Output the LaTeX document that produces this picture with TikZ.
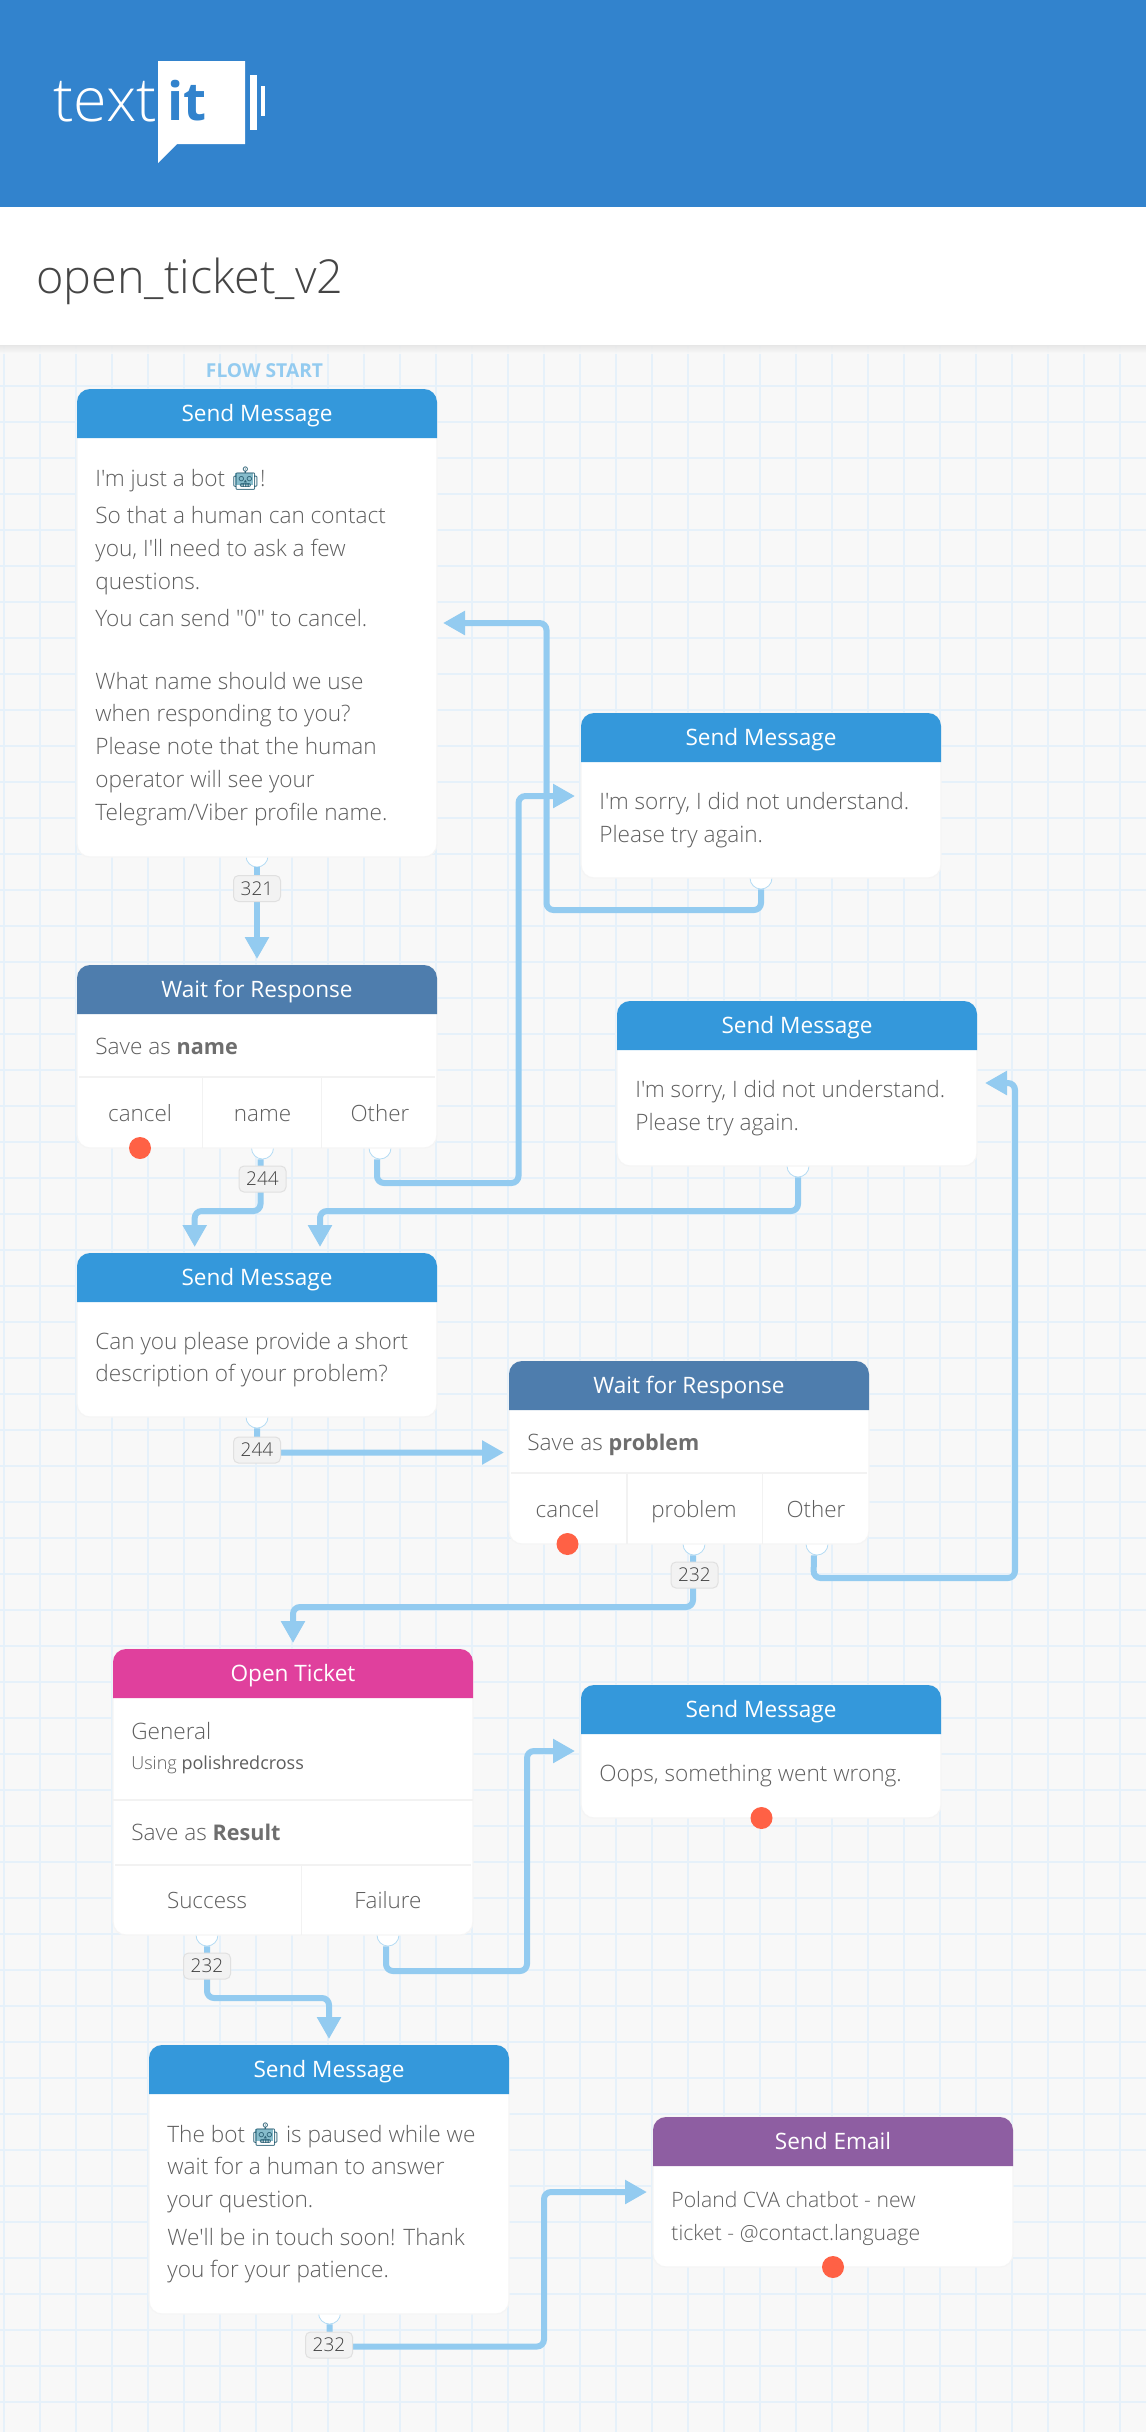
\documentclass[tikz,border=0pt]{standalone}
\usepackage{fontspec}
\usetikzlibrary{arrows.meta,calc}
\setmainfont{Open Sans Light}
\newfontfamily\bodyfont{Open Sans Light}
\newfontfamily\medfont{Open Sans}
\newfontfamily\emojifont{Noto Emoji}
\definecolor{topblue}{HTML}{3283CD}
\definecolor{sendblue}{HTML}{3498DB}
\definecolor{waitblue}{HTML}{4E7DAD}
\definecolor{ticketpink}{HTML}{E0409D}
\definecolor{mailpurple}{HTML}{8E5EA2}
\definecolor{linkblue}{HTML}{93CBF0}
\definecolor{gridblue}{HTML}{E6F1FA}
\definecolor{pagegrey}{HTML}{F8F8F8}
\definecolor{bodygrey}{HTML}{5E5E5E}
\definecolor{dotred}{HTML}{FF6145}
\definecolor{robotteal}{HTML}{2F6478}
\definecolor{robotfill}{HTML}{86BCCB}
\tikzset{
  x=0.5pt,y=-0.5pt,
  cardbody/.style={draw=black!4,line width=0.6pt,fill=white,rounded corners=6.5pt,inner sep=0pt,minimum width=180pt},
  cardtitle/.style={text=white,font=\medfont\fontsize{11.3pt}{12pt}\selectfont,inner sep=0pt,anchor=base},
  bodytext/.style={text=bodygrey,font=\bodyfont\fontsize{11.3pt}{16.35pt}\selectfont,inner sep=0pt,anchor=base west,align=left},
  tabtext/.style={text=bodygrey,font=\bodyfont\fontsize{11.2pt}{12pt}\selectfont,inner sep=0pt,anchor=base},
  exitdot/.style={circle,draw=linkblue!70,line width=0.4pt,fill=white,inner sep=0pt,minimum size=11pt},
  reddot/.style={circle,fill=dotred,inner sep=0pt,minimum size=11pt},
  conn/.style={draw=linkblue,line width=3pt,rounded corners=3.5pt,-{Triangle[length=11pt,width=11.5pt]}},
  badge/.style={draw=black!12,line width=0.5pt,fill=black!5,rounded corners=2.5pt,inner sep=0pt,minimum width=23.5pt,minimum height=13pt,text=black!75,font=\bodyfont\fontsize{9.5pt}{10pt}\selectfont},
  divline/.style={draw=black!5,line width=0.7pt}
}
\newcommand{\card}[6]{% name, xleft, ytop, ybottom, colour, title
  \node[cardbody,minimum height={(#4-#3)*0.5pt}] (#1) at ({#2+180},{(#3+#4)/2}) {};
  \fill[#5] (#2,{#3+49}) [rounded corners=6.5pt] -- (#2,#3) -- ({#2+360},#3) [sharp corners] -- ({#2+360},{#3+49}) -- cycle;
  \node[cardtitle] (#1t) at ({#2+180},{#3+32}) {#6};
}
\newcommand{\boldword}[1]{{\medfont\bfseries\fontsize{10.8pt}{16.35pt}\selectfont\color{bodygrey!90}#1}}
\newcommand{\robotface}{{\emojifont\fontsize{11.5pt}{12pt}\selectfont\rlap{\kern.17em\raisebox{.03em}{\textcolor{robotfill}{\rule{.78em}{.55em}}}}\textcolor{robotteal}{\char"1F916}}}
\begin{document}
\begin{tikzpicture}
\useasboundingbox (0,0) rectangle (1146,2432);
% page
\fill[pagegrey] (0,345) rectangle (1146,2432);
\foreach \i in {0,...,31}{\draw[gridblue,line width=1pt] ({3.5+36*\i},345) -- ({3.5+36*\i},2432);}
\foreach \i in {0,...,57}{\draw[gridblue,line width=1pt] (0,{386+36*\i}) -- (1146,{386+36*\i});}
% header
\shade[top color=black!10,bottom color=pagegrey,opacity=0.9] (0,345) rectangle (1146,353);
\fill[topblue] (0,0) rectangle (1146,207);
\fill[white] (0,207) rectangle (1146,345);
\node[text=white,font=\bodyfont\fontsize{30.5pt}{32pt}\selectfont,inner sep=0pt,anchor=base west] (logotext) at (53,121) {text};
\fill[white] (158,61) -- (245,61) -- (245,144) -- (177,144) -- (158,163) -- cycle;
\node[text=topblue,font=\medfont\bfseries\fontsize{26.5pt}{32pt}\selectfont,inner sep=0pt,anchor=base west] (logoit) at (167,120) {it};
\fill[white] (249.5,75) rectangle (256.5,130);
\fill[white] (261,86) rectangle (264.5,116);
\node[text=black!73,font=\bodyfont\fontsize{23.4pt}{26pt}\selectfont,inner sep=0pt,anchor=base west] (title) at (36,293) {open\_ticket\_v2};
\node[text=linkblue,font=\medfont\bfseries\fontsize{9.6pt}{10pt}\selectfont,inner sep=0pt,anchor=base] (flowstart) at (264.5,377.5) {FLOW START};
% exit dots (under the cards)
\node[exitdot] (e1) at (257,856) {};
\node[exitdot] (e2) at (262.5,1148) {};
\node[exitdot] (e3) at (380,1148) {};
\node[exitdot] (e4) at (761,878) {};
\node[exitdot] (e5) at (798,1166) {};
\node[exitdot] (e6) at (257,1417) {};
\node[exitdot] (e7) at (694,1544) {};
\node[exitdot] (e8) at (817,1544) {};
\node[exitdot] (e9) at (207,1935) {};
\node[exitdot] (e10) at (388,1935) {};
\node[exitdot] (e11) at (329.5,2313) {};
% cards
\card{sendA}{77}{389}{857}{sendblue}{Send Message}
\card{waitA}{77}{965}{1148}{waitblue}{Wait for Response}
\card{sendB}{77}{1253}{1417}{sendblue}{Send Message}
\card{sorryA}{581}{713}{878}{sendblue}{Send Message}
\card{sorryB}{617}{1001}{1166}{sendblue}{Send Message}
\card{waitB}{509}{1361}{1544}{waitblue}{Wait for Response}
\card{ticket}{113}{1649}{1935}{ticketpink}{Open Ticket}
\card{oops}{581}{1685}{1818}{sendblue}{Send Message}
\card{sendC}{149}{2045}{2314}{sendblue}{Send Message}
\card{mail}{653}{2117}{2267}{mailpurple}{Send Email}
% card dividers
\draw[divline] (79,1077) -- (435,1077);
\draw[divline] (202.5,1077) -- (202.5,1148);
\draw[divline] (321.5,1077) -- (321.5,1148);
\draw[divline] (511,1473) -- (867,1473);
\draw[divline] (627,1473) -- (627,1544);
\draw[divline] (762.5,1473) -- (762.5,1544);
\draw[divline] (113,1800) -- (473,1800);
\draw[divline] (115,1865) -- (471,1865);
\draw[divline] (301.5,1865) -- (301.5,1935);
% card texts (a multi-line node is placed by its last baseline)
\node[bodytext] (a1) at (95,486) {I'm just a bot \robotface!};
\node[bodytext] (a2) at (95,589) {So that a human can contact\\you, I'll need to ask a few\\questions.};
\node[bodytext] (a3) at (95,626.5) {You can send "0" to cancel.};
\node[bodytext] (a4) at (95,820) {What name should we use\\when responding to you?\\Please note that the human\\operator will see your\\Telegram/Viber profile name.};
\node[bodytext] (w1) at (95,1054) {Save as \boldword{name}};
\node[tabtext] (w1a) at (140,1121) {cancel};
\node[tabtext] (w1b) at (262.5,1121) {name};
\node[tabtext] (w1c) at (380,1121) {Other};
\node[bodytext] (b1) at (95,1381.7) {Can you please provide a short\\description of your problem?};
\node[bodytext] (s1) at (599,842) {I'm sorry, I did not understand.\\Please try again.};
\node[bodytext] (s2) at (635,1130) {I'm sorry, I did not understand.\\Please try again.};
\node[bodytext] (w2) at (527,1450) {Save as \boldword{problem}};
\node[tabtext] (w2a) at (567.5,1517) {cancel};
\node[tabtext] (w2b) at (694,1517) {problem};
\node[tabtext] (w2c) at (816,1517) {Other};
\node[bodytext] (t1) at (131,1739) {General};
\node[bodytext,font=\bodyfont\fontsize{9pt}{10pt}\selectfont] (t2) at (131,1769) {Using {\medfont polishredcross}};
\node[bodytext] (t3) at (131,1840) {Save as \boldword{Result}};
\node[tabtext] (t4) at (207,1908) {Success};
\node[tabtext] (t5) at (388,1908) {Failure};
\node[bodytext] (o1) at (599,1781) {Oops, something went wrong.};
\node[bodytext] (c1) at (167,2207.4) {The bot \robotface{} is paused while we\\wait for a human to answer\\your question.};
\node[bodytext] (c2) at (167,2277.7) {We'll be in touch soon! Thank\\you for your patience.};
\node[bodytext,font=\bodyfont\fontsize{10.6pt}{16.35pt}\selectfont] (m1) at (671,2240) {Poland CVA chatbot - new\\ticket - @contact.language};
% entry points
\coordinate (inWaitA) at (257,959);
\coordinate (inSendB1) at (194.7,1247);
\coordinate (inSendB2) at (320,1247);
\coordinate (inSorryA) at (575,796);
\coordinate (inSendA) at (443,623);
\coordinate (inSorryB) at (985,1083);
\coordinate (inWaitB) at (504,1452.5);
\coordinate (inTicket) at (293,1643);
\coordinate (inSendC) at (329,2039);
\coordinate (inOops) at (575,1751);
\coordinate (inMail) at (647,2192);
% connectors
\draw[conn] (e1.south) -- (inWaitA);
\draw[conn] ([xshift=-1pt]e2.south) -- (260.5,1211) -- (194.7,1211) -- (inSendB1);
\draw[conn] ([xshift=-1.5pt]e3.south) -- (377,1183) -- (518.5,1183) -- (518.5,796) -- (inSorryA);
\draw[conn] (e4.south) -- (761,910) -- (546.5,910) -- (546.5,623) -- (inSendA);
\draw[conn] (e5.south) -- (798,1211) -- (320,1211) -- (inSendB2);
\draw[conn] (e6.south) -- (257,1452.5) -- (inWaitB);
\draw[conn] ([xshift=-.5pt]e7.south) -- (693,1607) -- (293,1607) -- (inTicket);
\draw[conn] ([xshift=-1.5pt]e8.south) -- (813.5,1578) -- (1015,1578) -- (1015,1083) -- (inSorryB);
\draw[conn] (e9.south) -- (207,1998) -- (329,1998) -- (inSendC);
\draw[conn] ([xshift=-1pt]e10.south) -- (386,1971) -- (527,1971) -- (527,1751) -- (inOops);
\draw[conn] (e11.south) -- (329.5,2346.5) -- (544,2346.5) -- (544,2192) -- (inMail);
% badges
\node[badge] (n1) at (257,888.5) {321};
\node[badge] (n2) at (262.5,1179) {244};
\node[badge] (n6) at (257,1450) {244};
\node[badge] (n7) at (694.5,1575) {232};
\node[badge] (n9) at (207,1966) {232};
\node[badge] (n11) at (329,2345) {232};
% red dots
\node[reddot] (r1) at (140,1148) {};
\node[reddot] (r2) at (567.5,1544) {};
\node[reddot] (r3) at (761.5,1818) {};
\node[reddot] (r4) at (833,2267) {};
\end{tikzpicture}
\end{document}
